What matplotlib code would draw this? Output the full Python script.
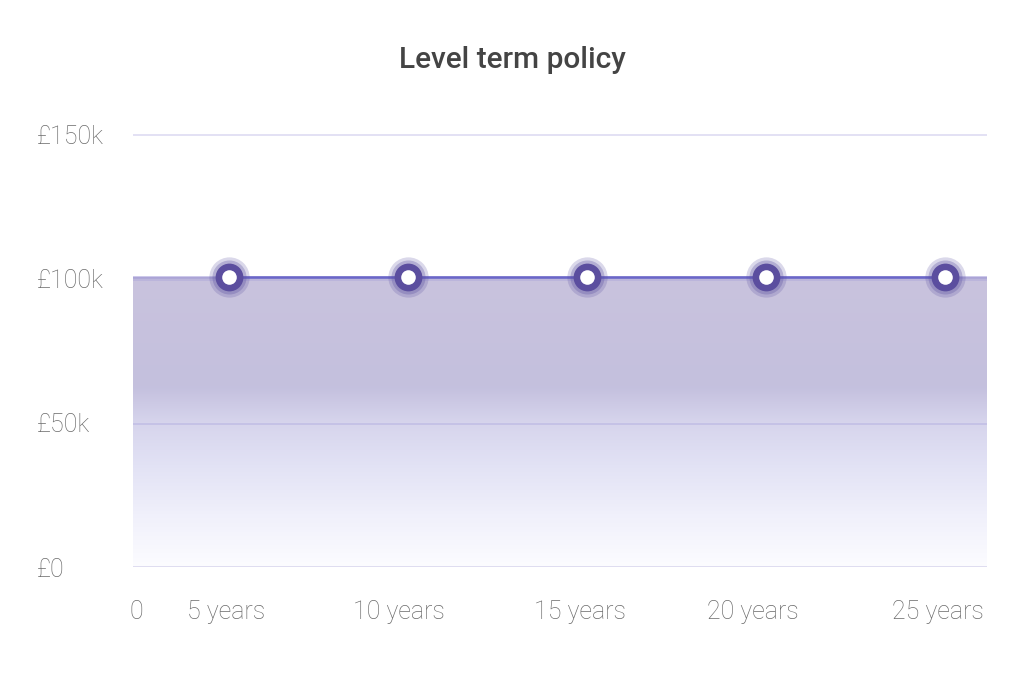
import numpy as np
import matplotlib
matplotlib.use("Agg")
import matplotlib.pyplot as plt
from matplotlib.colors import LinearSegmentedColormap

plt.rcParams['font.family'] = ['Roboto', 'DejaVu Sans']

# data
years = [5, 10, 15, 20, 25]
cover = [100500, 100500, 100500, 100500, 100500]
y_ticks = [0, 50000, 100000, 150000]
y_labels = ['£0', '£50k', '£100k', '£150k']
x_label_pos = [2.4, 4.92, 9.75, 14.8, 19.64, 24.8]
x_labels = ['0', '5 years', '10 years', '15 years', '20 years', '25 years']

x_min, x_max = 2.318, 26.17

fig = plt.figure(figsize=(10.24, 6.83), dpi=100)
ax = fig.add_axes([0.1299, 0.1698, 0.9639 - 0.1299, 0.8038 - 0.1698])
ax.set_xlim(x_min, x_max)
ax.set_ylim(0, 150000)

# gradient fill under the line
fill_x = [x_min] + years + [x_max]
fill_y = [cover[0]] + cover + [cover[-1]]
poly = ax.fill_between(fill_x, fill_y, 0, color='none', lw=0)
grad_cmap = LinearSegmentedColormap.from_list('g', [
    (0.0, '#fcfcff'),
    (0.18, '#f0f0fb'),
    (0.35, '#e2e2f5'),
    (0.5, '#d6d4ec'),
    (0.62, '#c4c0de'),
    (1.0, '#c9c3dd'),
])
grad = np.linspace(0, 1, 256).reshape(-1, 1)
img = ax.imshow(grad, cmap=grad_cmap, aspect='auto', origin='lower',
                extent=[x_min, x_max, 0, max(cover)], zorder=1)
img.set_clip_path(poly.get_paths()[0], transform=ax.transData)

# grid lines
for t in y_ticks[1:]:
    ax.axhline(t - 500, color='#9a94d8', alpha=0.3, lw=1.3, zorder=2)
ax.axhline(0, color='#dcdaef', lw=1.3, zorder=2)

# line
ax.plot(fill_x, fill_y, color='#8f88d0', alpha=0.5, lw=2, zorder=3)
ax.plot(years, cover, color='#6a66c8', lw=1.8, zorder=4)

# markers
ax.plot(years, cover, 'o', ms=29, color='#5a4fa0', alpha=0.22, mew=0, zorder=5)
ax.plot(years, cover, 'o', ms=24.5, color='#5a4fa0', alpha=0.3, mew=0, zorder=5)
ax.plot(years, cover, 'o', ms=20, color='#5b4e9f', mew=0, zorder=6)
ax.plot(years, cover, 'o', ms=10.5, color='white', mew=0, zorder=7)

ax.set_yticks(y_ticks)
ax.set_yticklabels(y_labels, fontsize=18, color='#6a6a6a', fontweight='light')
ax.set_xticks(x_label_pos)
ax.set_xticklabels(x_labels, fontsize=18, color='#6a6a6a', fontweight='light')
ax.tick_params(axis='both', length=0)
ax.tick_params(axis='x', pad=24)
for lbl in ax.get_yticklabels():
    lbl.set_horizontalalignment('left')
ax.yaxis.set_tick_params(pad=69)
for s in ax.spines.values():
    s.set_visible(False)

fig.text(0.5, 0.912, 'Level term policy', ha='center', va='center',
         fontsize=21.5, fontweight='medium', color='#444444')

fig.savefig('out.png', dpi=100)
